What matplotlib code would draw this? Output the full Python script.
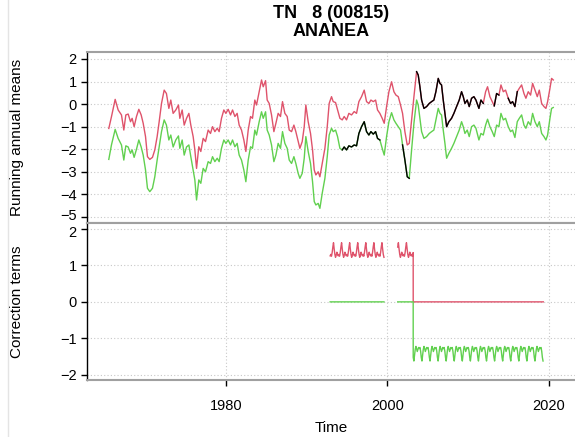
"""
TN 8 (00815) ANANEA: running annual means and correction terms
"""
import numpy as np
import matplotlib.pyplot as plt
import matplotlib.transforms as mtransforms
from matplotlib.lines import Line2D

plt.rcParams['font.family'] = ['Liberation Sans', 'DejaVu Sans']

# time axis (years) shared by both homogenized series
years = [
    1965.50, 1965.83, 1966.29, 1966.66, 1967.07, 1967.36, 1967.61, 1967.90, 1968.19, 1968.39,
    1968.64, 1968.93, 1969.22, 1969.51, 1969.76, 1970.05, 1970.29, 1970.58, 1970.91, 1971.20,
    1971.49, 1971.74, 1972.03, 1972.36, 1972.64, 1972.94, 1973.18, 1973.47, 1973.80, 1974.13,
    1974.30, 1974.59, 1974.84, 1975.13, 1975.42, 1975.66, 1975.95, 1976.16, 1976.37, 1976.65,
    1976.90, 1977.19, 1977.48, 1977.81, 1978.10, 1978.35, 1978.64, 1978.93, 1979.17, 1979.46,
    1979.75, 1980.00, 1980.29, 1980.58, 1980.83, 1981.12, 1981.40, 1981.65, 1981.94, 1982.23,
    1982.48, 1982.77, 1983.06,
    1983.30, 1983.59, 1983.80, 1984.13, 1984.42, 1984.63, 1984.92, 1985.12, 1985.37, 1985.66,
    1985.95, 1986.20, 1986.48, 1986.77, 1987.02, 1987.31, 1987.60, 1987.85, 1988.14, 1988.43,
    1988.67, 1988.96, 1989.17, 1989.46, 1989.71, 1989.91, 1990.20, 1990.49, 1990.74, 1990.95,
    1991.15, 1991.44, 1991.65, 1991.94, 1992.27, 1992.56, 1992.80,
    1993.09, 1993.30, 1993.59, 1993.84, 1994.13, 1994.42, 1994.66, 1994.95, 1995.24, 1995.57,
    1995.90, 1996.19, 1996.48, 1996.81, 1997.14, 1997.43, 1997.72, 1997.97, 1998.26, 1998.55,
    1998.79, 1999.08, 1999.37, 1999.62, 1999.91, 2000.20, 2000.53, 2000.82, 2001.07, 2001.36,
    2001.64,
    2001.89, 2002.18, 2002.47, 2002.72, 2003.01, 2003.30, 2003.63, 2003.83, 2004.04, 2004.25,
    2004.54, 2004.87, 2005.20, 2005.49, 2005.77, 2006.02, 2006.31, 2006.52, 2006.72, 2006.93,
    2007.14, 2007.35, 2007.63, 2007.96, 2008.25, 2008.58, 2008.91, 2009.20, 2009.41, 2009.62,
    2009.90, 2010.15, 2010.44, 2010.73, 2010.98,
    2011.35, 2011.60, 2011.89, 2012.18, 2012.42, 2012.71, 2013.00, 2013.25, 2013.54, 2013.83,
    2014.08, 2014.37, 2014.65, 2014.98, 2015.27, 2015.52, 2015.81, 2016.10, 2016.35, 2016.64,
    2016.93, 2017.17, 2017.46, 2017.75, 2018.00, 2018.29, 2018.58, 2018.83, 2019.12, 2019.41,
    2019.65, 2019.86, 2020.15, 2020.35, 2020.56,
]

red_means = [
    -1.08, -0.56, 0.21, -0.26, -0.48, -1.15, -0.48, -0.44, -0.78, -0.63,
    -1.00, -0.55, -0.23, -0.48, -0.85, -1.44, -2.33, -2.45, -2.36, -2.03,
    -1.44, -0.78, 0.03, 0.62, 0.47, -0.19, 0.18, -0.41, -0.26, -0.04,
    -0.63, -0.26, -0.93, -0.63, -0.41, -0.93, -1.44, -2.03, -2.85, -1.89,
    -2.10, -1.52, -1.66, -1.15, -1.30, -1.00, -1.22, -1.07, -1.22, -0.63,
    -0.26, -0.41, -0.23, -0.48, -0.26, -0.55, -0.41, -0.93, -1.15, -1.59,
    -2.10, -1.15, -0.55,
    -0.63, 0.18, -0.04, 0.55, 1.07, 0.77, 1.04, 0.18, 0.03, -0.48,
    -1.22, -0.85, -0.41, -0.55, 0.11, -0.41, -0.55, -1.15, -1.22, -0.93,
    -1.22, -1.66, -1.96, -1.66, -1.00, -0.04, -0.78, -1.30, -2.03, -2.92,
    -3.14, -3.00, -3.22, -2.63, -1.96, -1.00, 0.03,
    0.33, 0.11, 0.07, -0.26, -0.63, -0.70, -0.55, -0.70, -0.41, -0.48,
    -0.33, -0.41, 0.11, 0.33, 0.62, 0.11, 0.03, 0.18, 0.11, 0.18,
    -0.26, -0.41, -0.63, -0.85, -0.11, 0.55, 0.99, 0.55, 0.40, 0.33,
    -0.04,
    -0.41, -1.22, -1.81, -1.74, -0.70, 0.33, 1.44, 1.29, 0.77, 0.18,
    -0.19, -0.11, 0.03, 0.11, 0.18, 0.55, 1.14, 0.92, 0.85, 0.18,
    -0.41, -1.00, -0.78, -0.63, -0.41, -0.11, 0.18, 0.55, 0.33, 0.03,
    0.18, -0.11, 0.26, 0.33, 0.18,
    -0.19, 0.18, 0.03, 0.55, 0.77, 0.33, 0.11, -0.08, 0.47, 0.40,
    0.85, 0.55, 0.62, 0.26, 0.03, 0.11, -0.11, 0.55, 0.70, 0.85,
    0.47, 0.26, 0.55, 0.40, 0.92, 0.62, 0.33, 0.62, 0.03, -0.11,
    -0.19, 0.11, 0.70, 1.14, 1.07,
]

green_means = [
    -2.45, -1.81, -1.12, -1.52, -1.81, -2.48, -1.85, -1.90, -2.18, -2.03,
    -2.36, -2.00, -1.59, -1.90, -2.26, -2.92, -3.73, -3.88, -3.73, -3.22,
    -2.48, -1.90, -1.22, -0.70, -0.93, -1.59, -1.37, -1.90, -1.59, -1.41,
    -1.96, -1.59, -2.26, -1.90, -1.81, -2.33, -2.92, -3.36, -4.25, -3.36,
    -3.51, -2.85, -3.00, -2.55, -2.63, -2.33, -2.55, -2.40, -2.55, -1.96,
    -1.59, -1.74, -1.59, -1.81, -1.59, -1.89, -1.74, -2.26, -2.48, -2.92,
    -3.44, -2.48, -1.89,
    -1.96, -1.15, -1.37, -0.78, -0.34, -0.63, -0.34, -1.15, -1.37, -1.81,
    -2.55, -2.26, -1.74, -1.96, -1.22, -1.74, -1.96, -2.48, -2.63, -2.33,
    -2.63, -3.07, -3.29, -3.07, -2.40, -1.44, -2.10, -2.63, -3.44, -4.32,
    -4.47, -4.40, -4.62, -3.95, -3.29, -2.33, -1.37,
    -1.07, -1.22, -1.15, -1.44, -1.96, -2.03, -1.90, -2.03, -1.85, -1.90,
    -1.81, -1.85, -1.30, -1.00, -0.78, -1.22, -1.37, -1.22, -1.33, -1.22,
    -1.52, -1.59, -1.96, -2.26, -1.44, -0.78, -0.38, -0.70, -0.85, -1.00,
    -1.15,
    -1.81, -2.48, -3.22, -3.29, -2.03, -0.85, 0.18, -0.04, -0.63, -1.22,
    -1.52, -1.44, -1.30, -1.22, -1.15, -0.70, -0.19, -0.41, -0.48, -1.15,
    -1.74, -2.40, -2.18, -1.96, -1.74, -1.44, -1.15, -0.78, -1.00, -1.30,
    -1.15, -1.44, -1.00, -0.93, -1.07,
    -1.59, -1.30, -1.37, -0.93, -0.67, -1.00, -1.22, -1.44, -0.93, -1.00,
    -0.41, -0.70, -0.63, -1.00, -1.22, -1.15, -1.48, -0.78, -0.63, -0.48,
    -0.93, -1.07, -0.78, -0.93, -0.41, -0.78, -1.00, -0.78, -1.30, -1.44,
    -1.59, -1.37, -0.63, -0.19, -0.15,
]

# periods where the observed series (black) coincides with each curve
black_on_green = [(1994.3, 1999.2), (2001.8, 2002.75)]
black_on_red = [(2003.6, 2012.1), (2013.2, 2013.9), (2014.9, 2016.2)]

# correction terms: monthly values (Jan..Dec) and the periods they apply to
red_corr_month = [1.30, 1.25, 1.35, 1.50, 1.62, 1.45, 1.30, 1.22, 1.28, 1.36, 1.30, 1.26]
green_corr_month = [-1.28, -1.25, -1.35, -1.52, -1.62, -1.45, -1.30, -1.22, -1.28, -1.36, -1.30, -1.25]
red_corr_periods = [(1992.92, 1999.62), (2001.29, 2003.21)]
green_corr_period = (2003.21, 2019.33)

RED = '#DF536B'
GREEN = '#61D04F'
FRAME = '#a0a0a0'
GRID = '#c8c8c8'


def monthly(lo, hi, pattern):
    t = np.arange(lo, hi + 1e-9, 1 / 12)
    idx = np.round((t % 1) * 12).astype(int) % 12
    return t, np.asarray(pattern)[idx]


def style_axes(ax, yticks, ylim):
    ax.set_xlim(1962.8, 2023.5)
    ax.set_ylim(*ylim)
    ax.set_yticks(yticks)
    ax.set_xticks([1980, 2000, 2020])
    ax.grid(True, color=GRID, linestyle=(0, (1, 2)), linewidth=0.8)
    ax.set_axisbelow(True)
    for side in ('top', 'bottom', 'right'):
        ax.spines[side].set_color(FRAME)
        ax.spines[side].set_linewidth(1.5)
    ax.spines['left'].set_color('black')
    ax.spines['left'].set_linewidth(1.0)
    ax.tick_params(axis='y', length=4.5, width=1, pad=3, labelsize=10.5)
    ax.tick_params(axis='x', length=4.5, width=1, pad=9, labelsize=10.5)


W, H = 575, 437
fig = plt.figure(figsize=(W / 100, H / 100), dpi=100)


def px_axes(left, top, right, bottom):
    return fig.add_axes([left / W, 1 - bottom / H, (right - left) / W, (bottom - top) / H])


ax1 = px_axes(87, 52, 577, 223)
ax2 = px_axes(87, 223, 577, 380)

t = np.asarray(years)
red = np.asarray(red_means)
green = np.asarray(green_means)

# 上图: 滑动年均值
ax1.plot(t, red, color=RED, lw=1.0)
ax1.plot(t, green, color=GREEN, lw=1.0)
for lo, hi in black_on_green:
    m = (t >= lo) & (t <= hi)
    ax1.plot(t[m], green[m], color='black', lw=1.0)
for lo, hi in black_on_red:
    m = (t >= lo) & (t <= hi)
    ax1.plot(t[m], red[m], color='black', lw=1.0)
style_axes(ax1, range(-5, 3), (-5.27, 2.31))
ax1.tick_params(axis='x', length=0, labelbottom=False)
ax1.set_ylabel('Running annual means', fontsize=11)
ax1.yaxis.set_label_coords(-0.128, 0.5)

# 下图: 修正项
rt, rv, gt, gv = [], [], [], []
for lo, hi in red_corr_periods:
    tt, vv = monthly(lo, hi, red_corr_month)
    rt += list(tt) + [np.nan]
    rv += list(vv) + [np.nan]
    gt += list(tt) + [np.nan]
    gv += [0.0] * len(tt) + [np.nan]
rt, rv = rt[:-1], rv[:-1]
gt, gv = gt[:-1], gv[:-1]
tt, vv = monthly(green_corr_period[0], green_corr_period[1], green_corr_month)
rt += [green_corr_period[0], green_corr_period[1]]
rv += [0.0, 0.0]
gt += list(tt)
gv += list(vv)

ax2.plot(rt, rv, color=RED, lw=1.0)
ax2.plot(gt, gv, color=GREEN, lw=1.0)
style_axes(ax2, [-2, -1, 0, 1, 2], (-2.14, 2.16))
ax2.set_ylabel('Correction terms', fontsize=11)
ax2.yaxis.set_label_coords(-0.128, 0.5)

# 两图交界处的 -5 与 2 标签稍微错开
up = mtransforms.ScaledTranslation(0, 2 / 72, fig.dpi_scale_trans)
down = mtransforms.ScaledTranslation(0, -2 / 72, fig.dpi_scale_trans)
lab = ax1.yaxis.get_major_ticks()[0].label1
lab.set_transform(lab.get_transform() + up)
lab = ax2.yaxis.get_major_ticks()[-1].label1
lab.set_transform(lab.get_transform() + down)

# 标题与横轴标题
fig.text(331 / W, 1 - 14 / H, 'TN   8 (00815)', ha='center', va='center',
         fontsize=13, fontweight='bold')
fig.text(331 / W, 1 - 31 / H, 'ANANEA', ha='center', va='center',
         fontsize=13, fontweight='bold')
fig.text(331 / W, 1 - 428 / H, 'Time', ha='center', va='center', fontsize=11)

# 左侧浅色边线
fig.add_artist(Line2D([8 / W, 8 / W], [0, 1], color='#e4e4e4', lw=1.0))

fig.savefig('out.png', dpi=100)
